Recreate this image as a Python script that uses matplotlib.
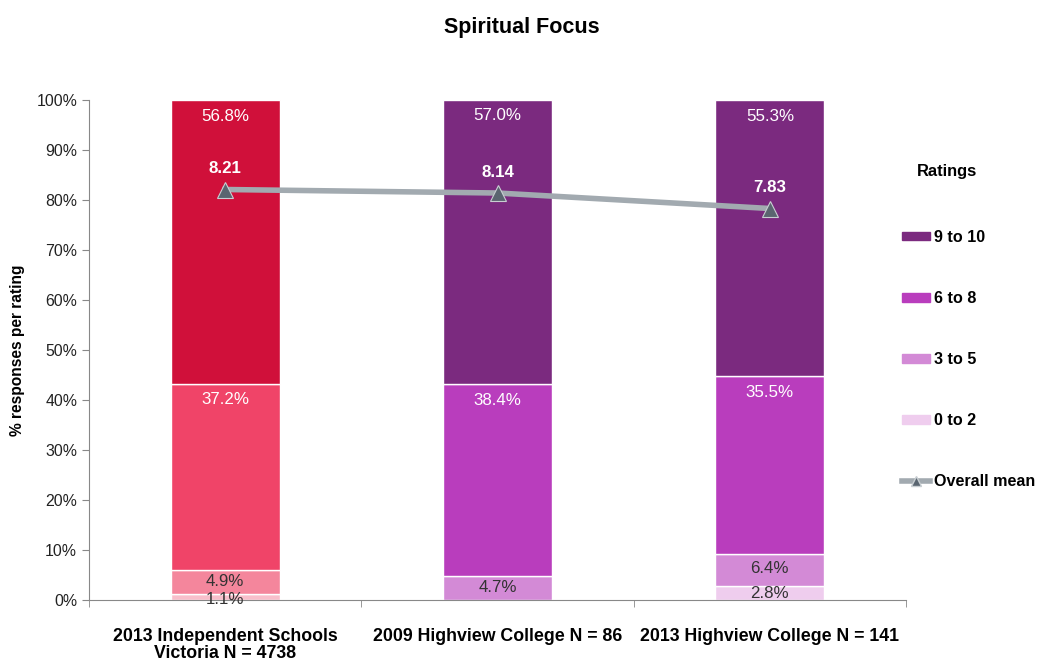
import matplotlib.pyplot as plt
from matplotlib.patches import Patch
from matplotlib.lines import Line2D
import numpy as np

plt.rcParams['font.family'] = ['Liberation Sans', 'DejaVu Sans']

categories = ['2013 Independent Schools\nVictoria N = 4738',
              '2009 Highview College N = 86',
              '2013 Highview College N = 141']
ratings = ['0 to 2', '3 to 5', '6 to 8', '9 to 10']
r0_2 = [1.1, 0.0, 2.8]
r3_5 = [4.9, 4.7, 6.4]
r6_8 = [37.2, 38.4, 35.5]
r9_10 = [56.8, 57.0, 55.3]
means = [8.21, 8.14, 7.83]

# first bar uses the red palette, the college bars the purple one
red_cols = ['#F8BFCB', '#F4869C', '#F04468', '#D0103A']
purple_cols = ['#EFCDEE', '#D38AD6', '#B93DBD', '#7B2A7F']
label_cols = ['#333333', '#333333', 'white', 'white']

fig = plt.figure(figsize=(10.43, 6.61), dpi=100)
ax = fig.add_axes([0.0853, 0.0923, 0.7834, 0.7564])

x = np.arange(len(categories))
width = 0.40
bottom = np.zeros(len(categories))
for i, vals in enumerate([r0_2, r3_5, r6_8, r9_10]):
    cols = [red_cols[i] if j == 0 else purple_cols[i] for j in range(len(x))]
    ax.bar(x, vals, width, bottom=bottom, color=cols, edgecolor='white', linewidth=1)
    for j, v in enumerate(vals):
        if v <= 0:
            continue
        top = bottom[j] + v
        off = min(3.2, 0.6 + 0.35 * v)
        ax.text(x[j], top - off, '%.1f%%' % v, ha='center', va='center',
                fontsize=12.2, color=label_cols[i])
    bottom = bottom + np.array(vals)

mean_pct = [m * 10 for m in means]
ax.plot(x, mean_pct, color='#A2AAB0', linewidth=4, zorder=3)
ax.plot(x, mean_pct, linestyle='none', marker='^', markersize=11,
        markerfacecolor='#5A6570', markeredgecolor='#C8CED2', markeredgewidth=0.8, zorder=4)
for j, m in enumerate(means):
    ax.text(x[j], mean_pct[j] + 4.2, '%.2f' % m, ha='center', va='center',
            fontsize=12.2, fontweight='bold', color='white', zorder=5)

ax.set_xlim(-0.5, 2.5)
ax.set_ylim(0, 100)
ax.set_yticks(np.arange(0, 101, 10))
ax.set_yticklabels(['%d%%' % t for t in range(0, 101, 10)], fontsize=11.4)
ax.set_xticks(x)
ax.set_xticklabels(categories, fontsize=12.8, fontweight='bold', linespacing=1.05)
ax.tick_params(axis='x', which='major', length=0, pad=20)
ax.set_xticks([-0.5, 0.5, 1.5, 2.5], minor=True)
ax.tick_params(axis='x', which='minor', length=5, color='#888888', direction='out')
ax.tick_params(axis='y', length=5, color='#888888', direction='out', labelcolor='#222222')

for s in ['top', 'right']:
    ax.spines[s].set_visible(False)
ax.spines['left'].set_color('#888888')
ax.spines['bottom'].set_color('#888888')

ax.set_ylabel('% responses per rating', fontsize=11.2, fontweight='bold', labelpad=8)
fig.text(0.5, 0.958, 'Spiritual Focus', ha='center', va='center',
         fontsize=15.5, fontweight='bold')

fig.text(0.908, 0.740, 'Ratings', ha='center', va='center', fontsize=11.9, fontweight='bold')
handles = [Patch(color=purple_cols[3]), Patch(color=purple_cols[2]),
           Patch(color=purple_cols[1]), Patch(color=purple_cols[0]),
           Line2D([0], [0], color='#A2AAB0', linewidth=4, marker='^', markersize=7,
                  markerfacecolor='#5A6570', markeredgecolor='#C8CED2')]
labels = ['9 to 10', '6 to 8', '3 to 5', '0 to 2', 'Overall mean']
leg = fig.legend(handles, labels, loc='upper left', bbox_to_anchor=(0.859, 0.662),
                 frameon=False, handlelength=1.7, handleheight=0.45, handletextpad=0.25,
                 labelspacing=2.86, fontsize=11.6, numpoints=1, borderaxespad=0)
for t in leg.get_texts():
    t.set_fontweight('bold')

fig.savefig('out.png', dpi=100)
